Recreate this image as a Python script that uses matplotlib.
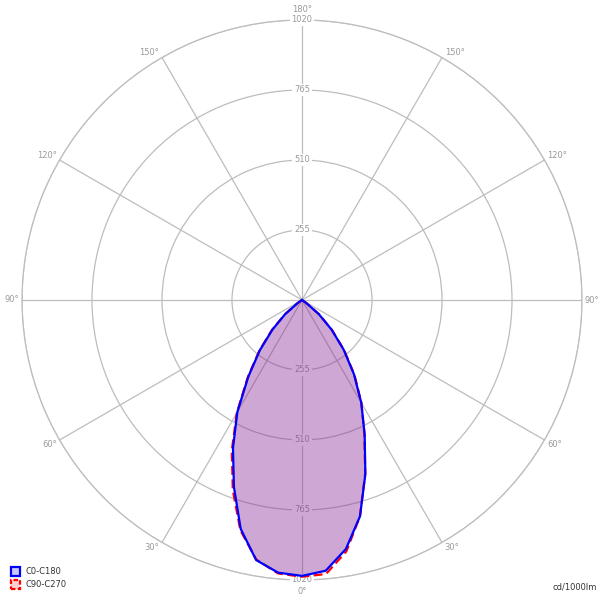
import numpy as np
import matplotlib
matplotlib.use("Agg")
from matplotlib import pyplot as plt
from matplotlib.patches import Rectangle

# gamma angles (deg from nadir) and intensities in cd/1000lm
gamma = [0, 5, 10, 15, 20, 25, 30, 35, 40, 45, 50, 55, 60]
c0 = [1005, 990, 921, 816, 675, 540, 432, 330, 236, 152, 80, 18, 0]
c180 = [1005, 997, 962, 863, 725, 595, 471, 341, 239, 152, 80, 18, 0]
c90 = [1008, 1002, 930, 816, 673, 538, 432, 333, 239, 154, 82, 20, 0]
c270 = [1008, 1000, 960, 868, 737, 605, 475, 345, 243, 156, 82, 20, 0]

rings = [255, 510, 765, 1020]
angle_labels = [0, 30, 60, 90, 120, 150, 180]
legend_names = ["C0-C180", "C90-C270"]
unit_label = "cd/1000lm"

GRID = "#bdbdbd"
TXT = "#9a9a9a"


def curve(right, left):
    g = np.radians(gamma)
    th = np.concatenate([-g[::-1], g[1:]])
    r = np.concatenate([np.array(left)[::-1], np.array(right)[1:]])
    return th, r


def main():
    fig = plt.figure(figsize=(6.03, 6.01), dpi=100)
    ax = fig.add_axes([22 / 603, 21 / 601, 560 / 603, 560 / 601],
                      projection="polar")
    ax.set_theta_zero_location("S")
    ax.set_theta_direction(1)
    ax.set_ylim(0, rings[-1])
    ax.set_rgrids(rings, labels=[""] * len(rings))
    ax.set_thetagrids(np.arange(0, 360, 30), labels=[""] * 12)
    ax.grid(True, color=GRID, lw=0.9)
    ax.spines["polar"].set_color(GRID)
    ax.spines["polar"].set_linewidth(0.9)
    ax.tick_params(length=0, pad=0)

    # radial labels above and below the centre
    for v in rings:
        for th in (0, np.pi):
            ax.text(th, v, str(v), ha="center", va="center", fontsize=6,
                    color=TXT, zorder=3,
                    bbox=dict(fc="white", ec="none", pad=1.2))

    # angle labels, mirrored on both sides
    for a in angle_labels:
        if a in (0, 180):
            dy = -5 if a == 0 else 4
            ax.annotate(f"{a}°", xy=(np.radians(a), rings[-1]),
                        xytext=(0, dy), textcoords="offset points",
                        ha="center", va="top" if a == 0 else "bottom",
                        fontsize=6, color=TXT, annotation_clip=False)
            continue
        if a > 90:
            dy = 3.5
        elif a < 90:
            dy = -3.5
        else:
            dy = 0
        for side in (1, -1):
            ax.annotate(f"{a}°", xy=(np.radians(a) * side, rings[-1]),
                        xytext=(2 * side, dy), textcoords="offset points",
                        ha="left" if side > 0 else "right", va="center",
                        fontsize=6, color=TXT, annotation_clip=False)

    th1, r1 = curve(c0, c180)
    th2, r2 = curve(c90, c270)
    ax.fill(th1, r1, color=(135 / 255, 37 / 255, 152 / 255), alpha=0.4,
            lw=0, zorder=4)
    ax.plot(th2, r2, color="#ff0000", lw=1.6, ls=(0, (4, 2)), zorder=5)
    ax.plot(th1, r1, color="#0000ff", lw=1.6, zorder=6)

    # legend
    fig.add_artist(Rectangle((11 / 603, 25 / 601), 9 / 603, 9 / 601,
                             transform=fig.transFigure, fc="#c8c8ff",
                             ec="#0000ff", lw=1.6))
    fig.add_artist(Rectangle((11 / 603, 12 / 601), 9 / 603, 9 / 601,
                             transform=fig.transFigure, fc="#ffd0d0",
                             ec="#ff0000", lw=1.6, ls=(0, (2, 1))))
    fig.text(25 / 603, 29.5 / 601, legend_names[0], fontsize=6, va="center",
             color="#333333")
    fig.text(25 / 603, 16.5 / 601, legend_names[1], fontsize=6, va="center",
             color="#333333")
    fig.text(597 / 603, 14 / 601, unit_label, fontsize=6, ha="right",
             va="center", color="#333333")

    fig.savefig("out.png", dpi=100)


if __name__ == "__main__":
    main()
